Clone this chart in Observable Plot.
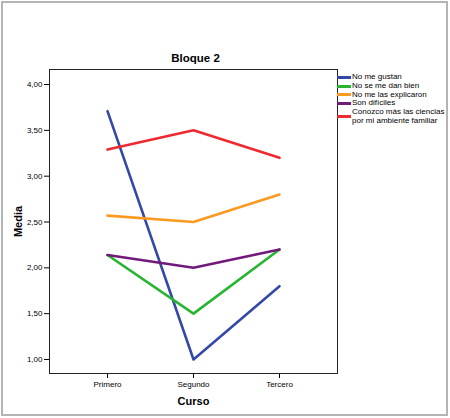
<!DOCTYPE html>
<html>
<head>
<meta charset="utf-8">
<script src="https://cdn.jsdelivr.net/npm/d3@7"></script>
<script src="https://cdn.jsdelivr.net/npm/@observablehq/plot@0.6"></script>
<style>
  body { margin: 0; background: #fff; font-family: "Liberation Sans", Arial, sans-serif; }
  #chart { position: relative; width: 450px; height: 418px; }
  #chart svg { display: block; }
  #chart svg [aria-label="x-axis label"] text,
  #chart svg [aria-label="y-axis label"] text { font-weight: bold; font-size: 11px; }
  #border { position: absolute; left: 1px; top: 1px; width: 447px; height: 415px;
            border: 2px solid #b4b4b4; box-sizing: border-box; pointer-events: none; }
  #legend { position: absolute; left: 337px; top: 73px; font-size: 8px; line-height: 8.4px; color: #000; }
  #legend .item { display: flex; align-items: center; margin-bottom: 0.4px; }
  #legend .sw { width: 14px; height: 3px; margin-right: 1px; flex: none; }
</style>
</head>
<body>
<div id="chart"></div>
<script>
// Courses on the x axis
const cursos = ["Primero", "Segundo", "Tercero"];
// Series (legend order) and their colours
const series = [
  "No me gustan",
  "No se me dan bien",
  "No me las explicaron",
  "Son difíciles",
  "Conozco más las ciencias por mi ambiente familiar"
];
const colores = ["#3349a8", "#28b531", "#fb9a20", "#711a7c", "#ee2a30"];
// Mean per course for each series
const noMeGustan = [3.71, 1.00, 1.80];
const noSeMeDanBien = [2.14, 1.50, 2.20];
const noMeLasExplicaron = [2.57, 2.50, 2.80];
const sonDificiles = [2.14, 2.00, 2.20];
const conozcoMas = [3.29, 3.50, 3.20];
const valores = [noMeGustan, noSeMeDanBien, noMeLasExplicaron, sonDificiles, conozcoMas];
// Y tick values
const yTicks = [1.0, 1.5, 2.0, 2.5, 3.0, 3.5, 4.0];

const filas = series.flatMap((s, i) =>
  cursos.map((c, j) => ({ serie: s, curso: c, media: valores[i][j] }))
);

const grafico = Plot.plot({
  width: 450,
  height: 418,
  marginLeft: 49,
  marginTop: 69,
  marginRight: 113,
  marginBottom: 45,
  style: { fontFamily: "Liberation Sans, Arial, sans-serif", fontSize: "8px", color: "#000", background: "#fff" },
  x: {
    type: "point", domain: cursos, padding: 0.67,
    label: "Curso", labelAnchor: "center", labelOffset: 31, labelArrow: "none",
    tickSize: 5, tickPadding: 3
  },
  y: {
    domain: [0.847, 4.164], ticks: yTicks,
    tickFormat: d => d.toFixed(2).replace(".", ","),
    label: "Media", labelAnchor: "center", labelOffset: 35, labelArrow: "none",
    tickSize: 5, tickPadding: 2
  },
  color: { domain: series, range: colores },
  marks: [
    Plot.frame({ stroke: "#222", strokeWidth: 1 }),
    Plot.line(filas, { x: "curso", y: "media", z: "serie", stroke: "serie", strokeWidth: 2.6 }),
    Plot.text(["Bloque 2"], { text: d => d, frameAnchor: "top", dx: 2, dy: -16, fontSize: 11.5, fontWeight: "bold", fill: "#000" })
  ]
});

const chart = document.getElementById("chart");
chart.appendChild(grafico);

// Legend to the right of the plot frame
const legend = document.createElement("div");
legend.id = "legend";
const etiquetas = [
  "No me gustan",
  "No se me dan bien",
  "No me las explicaron",
  "Son difíciles",
  "Conozco más las ciencias<br>por mi ambiente familiar"
];
series.forEach((s, i) => {
  const item = document.createElement("div");
  item.className = "item";
  item.innerHTML = `<span class="sw" style="background:${colores[i]}"></span><span>${etiquetas[i]}</span>`;
  legend.appendChild(item);
});
chart.appendChild(legend);

const border = document.createElement("div");
border.id = "border";
chart.appendChild(border);
</script>
</body>
</html>
